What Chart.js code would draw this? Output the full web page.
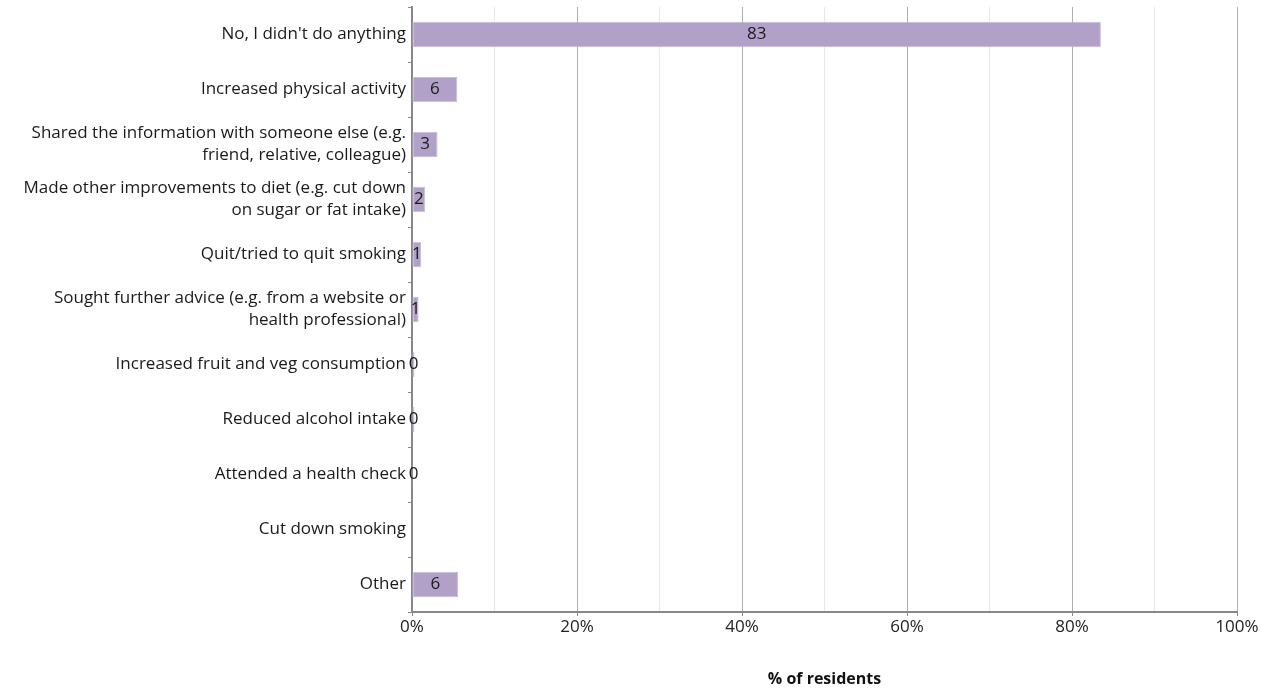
<!DOCTYPE html>
<html>
<head>
<meta charset="utf-8">
<script src="https://cdn.jsdelivr.net/npm/chart.js@4/dist/chart.umd.min.js"></script>
<style>
  html, body { margin: 0; padding: 0; background: #fff; }
  #wrap { width: 1261px; height: 689px; position: relative; }
</style>
</head>
<body>
<div id="wrap"><canvas id="chart"></canvas></div>
<script>
/* ===== Data ===== */
const CATEGORIES = [
  "No, I didn't do anything",
  'Increased physical activity',
  ['Shared the information with someone else (e.g.', 'friend, relative, colleague)'],
  ['Made other improvements to diet (e.g. cut down', 'on sugar or fat intake)'],
  'Quit/tried to quit smoking',
  ['Sought further advice (e.g. from a website or', 'health professional)'],
  'Increased fruit and veg consumption',
  'Reduced alcohol intake',
  'Attended a health check',
  'Cut down smoking',
  'Other',
];
const VALUES = [83.5, 5.5, 3.1, 1.6, 1.1, 0.8, 0.3, 0.3, 0.1, 0, 5.6];
const VALUE_LABELS = ['83', '6', '3', '2', '1', '1', '0', '0', '0', '', '6'];
const X_TICKS = [0, 20, 40, 60, 80, 100];

const FONT = '"Open Sans", "Liberation Sans", sans-serif';

// Draw the number in the middle of each bar
const barLabels = {
  id: 'barLabels',
  afterDatasetsDraw(chart) {
    const { ctx } = chart;
    const meta = chart.getDatasetMeta(0);
    ctx.save();
    ctx.font = `17px ${FONT}`;
    ctx.fillStyle = '#1a1a1a';
    ctx.textAlign = 'center';
    ctx.textBaseline = 'middle';
    meta.data.forEach((bar, i) => {
      const txt = VALUE_LABELS[i];
      if (!txt) {return;}
      const x = (bar.x + bar.base) / 2;
      ctx.fillText(txt, Math.max(x, bar.base + 1), bar.y);
    });
    ctx.restore();
  },
};

new Chart(document.getElementById('chart'), {
  type: 'bar',
  data: {
    labels: CATEGORIES,
    datasets: [{
      data: VALUES,
      backgroundColor: '#b1a0c7',
      borderColor: '#c9bdd9',
      borderWidth: 1,
      borderSkipped: false,
      barPercentage: 0.46,
      categoryPercentage: 1,
    }],
  },
  options: {
    indexAxis: 'y',
    responsive: true,
    maintainAspectRatio: false,
    animation: false,
    layout: { padding: { left: 0, right: 24, top: 7, bottom: 0 } },
    plugins: { legend: { display: false }, tooltip: { enabled: false } },
    scales: {
      x: {
        min: 0,
        max: 100,
        ticks: {
          stepSize: 10,
          autoSkip: false,
          maxRotation: 0,
          color: '#222',
          font: { family: FONT, size: 17 },
          padding: 1,
          callback: v => (X_TICKS.includes(v) ? v + '%' : ''),
        },
        grid: {
          color: c => (c.tick && c.tick.value % 20 === 0 ? '#b0b0b0' : '#e8e8e8'),
          tickLength: 4,
          tickColor: c => (c.tick && c.tick.value % 20 === 0 ? '#888' : 'rgba(0,0,0,0)'),
        },
        border: { color: '#888', width: 2 },
        title: {
          display: true,
          text: '% of residents',
          color: '#111',
          font: { family: FONT, size: 16, weight: 'bold' },
          padding: { top: 26, bottom: 0 },
        },
        afterFit: s => { s.height = 77; },
      },
      y: {
        afterFit: s => {
          s.width = 412;
          s.paddingTop = 0;
          s.paddingBottom = 0;
        },
        ticks: {
          color: '#1a1a1a',
          font: { family: FONT, size: 17, lineHeight: 1.3 },
          padding: 2,
        },
        grid: {
          drawOnChartArea: false,
          tickLength: 4,
          color: '#888',
        },
        border: { color: '#888', width: 2 },
      },
    },
  },
  plugins: [barLabels],
});
</script>
</body>
</html>
